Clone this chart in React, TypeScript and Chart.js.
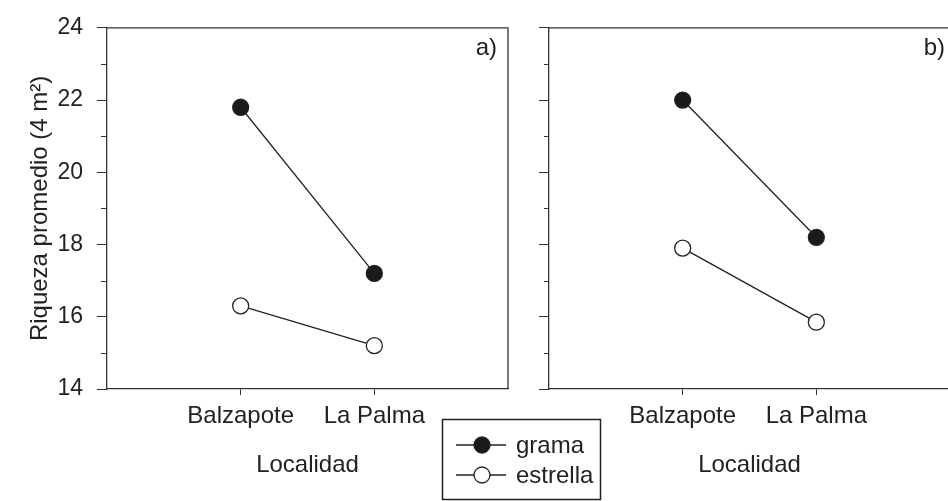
import React, { useEffect, useRef } from 'react';
import { Chart, registerables } from 'chart.js';

Chart.register(...registerables);

// ---- data ----
const categories = ['Balzapote', 'La Palma'];
const categoryPositions = [1, 2];
const gramaA = [21.8, 17.2];
const estrellaA = [16.3, 15.2];
const gramaB = [22.0, 18.2];
const estrellaB = [17.9, 15.85];
const yMajorTicks = [14, 16, 18, 20, 22, 24];
const yMinorTicks = [15, 17, 19, 21, 23];
const seriesNames = ['grama', 'estrella'];
const panelLabels = ['a)', 'b)'];
const yTitle = 'Riqueza promedio (4 m²)';
const xTitle = 'Localidad';

const FONT = "'Liberation Sans', Arial, Helvetica, sans-serif";
const INK = '#222222';
const AXIS = '#333333';
const TXT = 24;

const framePlugin = {
  id: 'frame',
  afterDraw(chart: any, _args: any, opts: any) {
    const { ctx, chartArea } = chart;
    const ys = chart.scales.y;
    ctx.save();
    ctx.strokeStyle = AXIS;
    ctx.lineWidth = 1.3;
    ctx.beginPath();
    ctx.moveTo(chartArea.left, chartArea.top);
    ctx.lineTo(chartArea.right, chartArea.top);
    ctx.lineTo(chartArea.right, chartArea.bottom);
    ctx.stroke();
    // minor ticks
    ctx.lineWidth = 1;
    ctx.beginPath();
    for (const v of yMinorTicks) {
      const py = Math.round(ys.getPixelForValue(v)) + 0.5;
      ctx.moveTo(chartArea.left - opts.minorLen, py);
      ctx.lineTo(chartArea.left, py);
    }
    ctx.stroke();
    // panel label
    ctx.fillStyle = INK;
    ctx.font = `${TXT}px ${FONT}`;
    ctx.textAlign = 'right';
    ctx.textBaseline = 'middle';
    ctx.fillText(opts.label, chartArea.right - opts.labelDx, 48);
    ctx.restore();
  },
};

const legendPlugin = {
  id: 'boxLegend',
  afterDraw(chart: any, _args: any, opts: any) {
    if (!opts.show) return;
    const { ctx } = chart;
    ctx.save();
    ctx.strokeStyle = INK;
    ctx.lineWidth = 1.5;
    ctx.strokeRect(442.5, 419.5, 158, 80);
    const rows = [445, 475];
    chart.data.datasets.forEach((ds: any, i: number) => {
      const y = rows[i];
      ctx.strokeStyle = ds.borderColor;
      ctx.lineWidth = ds.borderWidth;
      ctx.beginPath();
      ctx.moveTo(456, y);
      ctx.lineTo(506, y);
      ctx.stroke();
      ctx.beginPath();
      ctx.arc(482, y, ds.pointRadius, 0, Math.PI * 2);
      ctx.fillStyle = ds.pointBackgroundColor;
      ctx.fill();
      ctx.lineWidth = ds.pointBorderWidth;
      ctx.strokeStyle = ds.pointBorderColor;
      ctx.stroke();
      ctx.fillStyle = INK;
      ctx.font = `${TXT}px ${FONT}`;
      ctx.textAlign = 'left';
      ctx.textBaseline = 'middle';
      ctx.fillText(ds.label, 516, y + 1);
    });
    ctx.restore();
  },
};

function makeDataset(label: string, values: number[], filled: boolean) {
  return {
    label,
    data: categoryPositions.map((x, i) => ({ x, y: values[i] })),
    borderColor: INK,
    borderWidth: 1.3,
    pointRadius: 8,
    pointHoverRadius: 8,
    pointBackgroundColor: filled ? '#1a1a1a' : '#ffffff',
    pointBorderColor: INK,
    pointBorderWidth: 1.3,
    showLine: true,
    fill: false,
    tension: 0,
  };
}

function makeConfig(
  grama: number[],
  estrella: number[],
  axisWidth: number,
  padRight: number,
  showYLabels: boolean,
  label: string,
  labelDx: number,
  minorLen: number,
  showLegend: boolean
): any {
  return {
    type: 'scatter',
    data: {
      datasets: [
        makeDataset(seriesNames[0], grama, true),
        makeDataset(seriesNames[1], estrella, false),
      ],
    },
    options: {
      responsive: false,
      animation: false,
      events: [],
      layout: { padding: { left: 0, right: padRight, top: 25, bottom: 0 } },
      plugins: {
        legend: { display: false },
        tooltip: { enabled: false },
        frame: { label, labelDx, minorLen },
        boxLegend: { show: showLegend },
      },
      scales: {
        x: {
          type: 'linear',
          min: 0,
          max: 3,
          afterBuildTicks: (s: any) => {
            s.ticks = categoryPositions.map((v) => ({ value: v }));
          },
          afterFit: (s: any) => {
            s.height = 112;
          },
          ticks: {
            autoSkip: false,
            maxRotation: 0,
            padding: 7,
            color: INK,
            font: { size: TXT, family: FONT },
            callback: (v: number) => {
              const i = categoryPositions.indexOf(v);
              return i >= 0 ? categories[i] : '';
            },
          },
          grid: { drawOnChartArea: false, drawTicks: true, tickLength: 6, color: AXIS, lineWidth: 1 },
          border: { display: true, color: AXIS, width: 1.3 },
          title: {
            display: true,
            text: xTitle,
            color: INK,
            font: { size: TXT, family: FONT },
            padding: { top: 0, bottom: 21 },
          },
        },
        y: {
          type: 'linear',
          min: 14,
          max: 24,
          afterBuildTicks: (s: any) => {
            s.ticks = yMajorTicks.map((v) => ({ value: v }));
          },
          afterFit: (s: any) => {
            s.width = axisWidth;
          },
          ticks: {
            padding: 14,
            color: INK,
            font: { size: 23, family: FONT },
            callback: (v: number) => (showYLabels ? String(v) : ''),
          },
          grid: { drawOnChartArea: false, drawTicks: true, tickLength: 10, color: AXIS, lineWidth: 1 },
          border: { display: true, color: AXIS, width: 1.3 },
          title: {
            display: showYLabels,
            text: yTitle,
            color: INK,
            font: { size: TXT, family: FONT },
            padding: { top: 26, bottom: 0 },
          },
        },
      },
    },
    plugins: [framePlugin, legendPlugin],
  };
}

export default function App() {
  const leftRef = useRef<HTMLCanvasElement>(null);
  const rightRef = useRef<HTMLCanvasElement>(null);

  useEffect(() => {
    document.body.style.margin = '0';
    document.body.style.overflow = 'hidden';
    Chart.defaults.font.family = FONT;
    const c1 = new Chart(
      leftRef.current as HTMLCanvasElement,
      makeConfig(gramaA, estrellaA, 107, 948 - 508, true, panelLabels[0], 11, 6, true)
    );
    const c2 = new Chart(
      rightRef.current as HTMLCanvasElement,
      makeConfig(gramaB, estrellaB, 549, 960 - 950, false, panelLabels[1], 5, 5, false)
    );
    return () => {
      c1.destroy();
      c2.destroy();
    };
  }, []);

  return (
    <div style={{ position: 'relative', width: 948, height: 501, overflow: 'hidden', background: '#fff' }}>
      <canvas
        ref={leftRef}
        width={948}
        height={501}
        style={{ position: 'absolute', left: 0, top: 0, width: 948, height: 501 }}
      />
      <canvas
        ref={rightRef}
        width={960}
        height={501}
        style={{ position: 'absolute', left: 0, top: 0, width: 960, height: 501 }}
      />
    </div>
  );
}
